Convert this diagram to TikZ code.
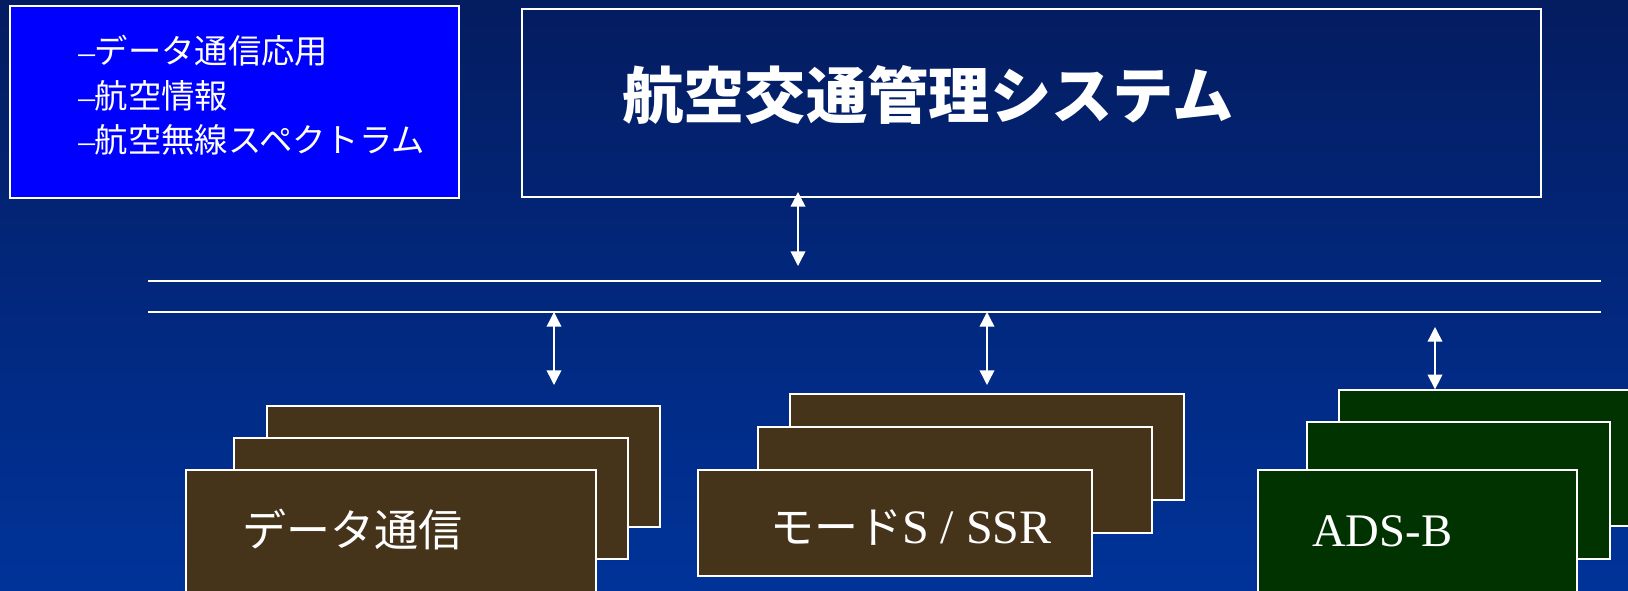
\documentclass[tikz,border=0pt]{standalone}
\usepackage{fontspec}
\setmainfont{Liberation Serif}
\newfontfamily\jp{Noto Sans CJK JP}
\usetikzlibrary{arrows.meta,fit}
\definecolor{bgtop}{RGB}{4,28,96}
\definecolor{bgbot}{RGB}{0,51,153}
\definecolor{boxbrown}{RGB}{70,52,26}
\definecolor{boxgreen}{RGB}{0,51,0}
\begin{document}
\begin{tikzpicture}[x=0.75pt,y=-0.75pt,
  frame/.style={draw=white,line width=1pt,inner sep=0pt},
  brownbox/.style={frame,fill=boxbrown},
  greenbox/.style={frame,fill=boxgreen},
  bus/.style={draw=white,line width=1.3pt},
  link/.style={draw=white,line width=1.1pt,{Triangle[width=11pt,length=11pt]}-{Triangle[width=11pt,length=11pt]}},
  lbl/.style={text=white,inner sep=0pt,anchor=base west}]
\useasboundingbox (0,0) rectangle (1628,590);
\clip (0,0) rectangle (1628,590);
\shade[top color=bgtop,bottom color=bgbot] (0,0) rectangle (1628,590);

% info box
\node[frame,fill=blue,fit={(10,6)(459,198)}] (info) {};
\node[lbl,font=\fontsize{25pt}{25pt}\selectfont] (i1) at (78,63) {–{\jp データ通信応用}};
\node[lbl,font=\fontsize{25pt}{25pt}\selectfont] (i2) at (78,108) {–{\jp 航空情報}};
\node[lbl,font=\fontsize{25pt}{25pt}\selectfont] (i3) at (78,152) {–{\jp 航空無線スペクトラム}};

% ATM box
\node[frame,fit={(522,9)(1541,197)}] (atm) {};
\node[lbl,font=\jp\bfseries\fontsize{46pt}{46pt}\selectfont] (title) at (622,118) {航空交通管理システム};

% bus
\coordinate (b1w) at (148,281); \coordinate (b1e) at (1601,281);
\coordinate (b2w) at (148,312); \coordinate (b2e) at (1601,312);
\draw[bus] (b1w) -- (b1e);
\draw[bus] (b2w) -- (b2e);

% stacks: data
\node[brownbox,fit={(267,406)(660,527)}] (d3) {};
\node[brownbox,fit={(234,438)(628,559)}] (d2) {};
\node[brownbox,fit={(186,470)(596,620)}] (d1) {};
\node[lbl,font=\jp\fontsize{33pt}{33pt}\selectfont] (dtxt) at (242,546) {データ通信};

% mode S
\node[brownbox,fit={(790,394)(1184,500)}] (m3) {};
\node[brownbox,fit={(758,427)(1152,533)}] (m2) {};
\node[brownbox,fit={(698,470)(1092,576)}] (m1) {};
\node[lbl,font=\fontsize{36pt}{36pt}\selectfont] (mtxt) at (770,543) {{\jp\fontsize{33pt}{33pt}\selectfont モード}S / SSR};

% ADS-B
\node[greenbox,fit={(1339,390)(1700,526)}] (g3) {};
\node[greenbox,fit={(1307,422)(1610,559)}] (g2) {};
\node[greenbox,fit={(1258,470)(1577,620)}] (g1) {};
\node[lbl,font=\fontsize{35pt}{35pt}\selectfont] (atxt) at (1312,546) {ADS-B};

% arrows
\coordinate (a1t) at (798,192); \coordinate (a1b) at (798,266);
\coordinate (a2t) at (554,312); \coordinate (a2b) at (554,385);
\coordinate (a3t) at (987,312); \coordinate (a3b) at (987,385);
\coordinate (a4t) at (1435,327);
\draw[link] (a1t) -- (a1b);
\draw[link] (a2t) -- (a2b);
\draw[link] (a3t) -- (a3b);
\draw[link] (a4t) -- (a4t |- g3.north);
\end{tikzpicture}
\end{document}
